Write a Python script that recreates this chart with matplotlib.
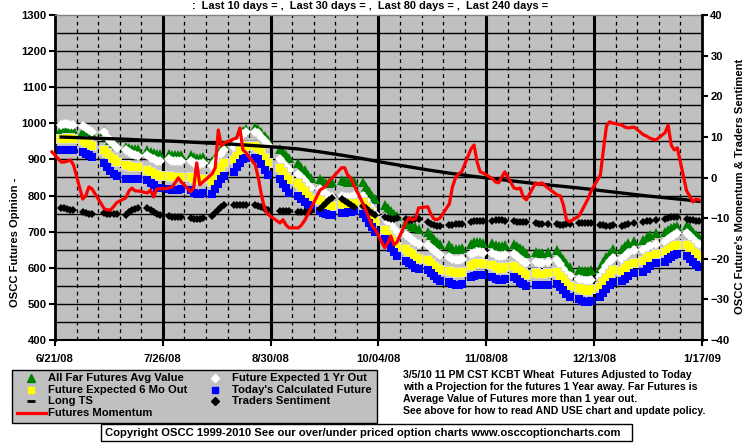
import matplotlib
matplotlib.use("Agg")
import matplotlib.pyplot as plt
from matplotlib.patches import Rectangle
import pandas as pd

plt.rcParams['font.family'] = ['Liberation Sans', 'DejaVu Sans']
plt.rcParams['font.weight'] = 'bold'

# ---- data -------------------------------------------------------------
holidays = ['2008-07-04', '2008-09-01', '2008-11-27', '2008-12-25', '2009-01-01']
days = pd.bdate_range('2008-06-23', '2009-01-16')
days = days[~days.isin(pd.to_datetime(holidays))]

far_avg = [
    985, 986, 987, 985, 983,
    980, 978, 974, 970,
    978, 966, 955, 946, 940,
    935, 932, 930, 929, 929,
    925, 920, 917, 915, 915,
    915, 913, 912, 912, 913,
    912, 908, 905, 905, 907,
    895, 905, 918, 930, 940,
    945, 958, 970, 980, 985,
    990, 985, 975, 965, 955,
    928, 920, 912, 905,
    890, 880, 870, 858, 848,
    845, 840, 835, 835, 838,
    842, 840, 838, 838, 840,
    838, 825, 812, 800, 790,
    775, 765, 757, 750, 743,
    728, 722, 716, 712, 708,
    700, 690, 680, 672, 665,
    662, 656, 652, 652, 655,
    665, 670, 672, 670, 668,
    668, 662, 660, 660, 664,
    665, 660, 655, 648, 642,
    645, 642, 642, 645,
    648, 636, 624, 612, 602,
    595, 592, 590, 590, 593,
    600, 615, 630, 642, 652,
    652, 660, 668, 675,
    678, 684, 690, 695,
    700, 705, 710, 713, 715,
    718, 710, 700, 692, 685]

one_yr = [
    995, 997, 998, 996, 994,
    993, 988, 982, 976,
    975, 962, 950, 940, 932,
    925, 920, 915, 912, 910,
    912, 905, 900, 897, 895,
    900, 897, 895, 895, 897,
    895, 890, 888, 888, 890,
    883, 893, 905, 915, 925,
    935, 948, 960, 970, 975,
    977, 972, 962, 950, 940,
    900, 890, 880, 870,
    860, 850, 840, 830, 822,
    818, 810, 803, 798, 796,
    798, 795, 795, 796, 798,
    800, 788, 775, 762, 750,
    740, 728, 718, 708, 698,
    690, 684, 677, 671, 666,
    662, 655, 648, 641, 636,
    630, 625, 622, 622, 624,
    638, 642, 645, 645, 642,
    640, 636, 632, 632, 636,
    638, 632, 625, 618, 612,
    615, 612, 612, 615,
    622, 610, 598, 586, 576,
    570, 566, 564, 564, 567,
    575, 590, 605, 618, 628,
    625, 633, 641, 648,
    650, 656, 661, 666,
    672, 679, 686, 692, 696,
    695, 688, 680, 672, 665]

six_mo = [
    957, 957, 958, 958, 957,
    950, 946, 942, 938,
    927, 918, 908, 900, 894,
    885, 882, 880, 880, 880,
    870, 865, 860, 856, 855,
    855, 852, 850, 850, 852,
    850, 845, 842, 842, 845,
    838, 850, 865, 878, 890,
    898, 910, 922, 932, 938,
    938, 932, 920, 905, 890,
    875, 865, 852, 842,
    835, 825, 812, 800, 790,
    788, 780, 775, 772, 772,
    776, 775, 776, 778, 780,
    782, 768, 755, 742, 730,
    705, 692, 680, 668, 658,
    652, 645, 638, 630, 625,
    622, 614, 606, 600, 595,
    592, 588, 585, 585, 587,
    606, 610, 612, 612, 610,
    608, 602, 598, 598, 602,
    605, 598, 592, 586, 580,
    585, 583, 583, 585,
    588, 578, 568, 558, 550,
    545, 540, 537, 537, 540,
    548, 560, 572, 584, 594,
    592, 600, 607, 614,
    618, 627, 633, 638,
    644, 650, 656, 660, 663,
    662, 655, 645, 637, 632]

today_calc = [
    926, 926, 925, 925, 926,
    921, 916, 911, 906,
    889, 878, 868, 860, 853,
    847, 846, 845, 845, 846,
    842, 835, 828, 822, 820,
    818, 816, 815, 815, 818,
    815, 808, 805, 805, 808,
    805, 818, 832, 845, 855,
    866, 878, 890, 900, 905,
    905, 900, 888, 872, 858,
    845, 833, 820, 808,
    798, 790, 782, 774, 766,
    758, 752, 748, 745, 745,
    752, 752, 754, 755, 756,
    750, 738, 725, 712, 700,
    680, 668, 655, 643, 632,
    620, 614, 607, 600, 596,
    594, 586, 578, 570, 563,
    562, 555, 551, 552, 555,
    575, 578, 580, 580, 580,
    575, 568, 565, 566, 570,
    574, 568, 562, 556, 550,
    553, 552, 552, 553,
    556, 547, 538, 528, 520,
    513, 508, 506, 506, 508,
    518, 530, 542, 552, 560,
    563, 570, 578, 585,
    589, 598, 605, 612,
    616, 624, 630, 635, 638,
    632, 624, 615, 607, 602]

traders = [
    -7.5, -7.6, -7.7, -7.9, -8.0,
    -8.6, -8.8, -9.0, -9.1,
    -8.8, -9.0, -9.1, -9.0, -8.9,
    -9.2, -8.6, -8.0, -7.7, -7.6,
    -7.6, -8.0, -8.5, -9.0, -9.3,
    -9.4, -9.6, -9.8, -9.8, -9.6,
    -10.0, -10.1, -10.2, -10.1, -10.0,
    -9.5, -8.8, -8.0, -7.3, -6.8,
    -6.8, -6.7, -6.7, -6.8, -6.8,
    -6.8, -7.0, -7.3, -7.7, -8.1,
    -8.3, -8.3, -8.3, -8.3,
    -8.5, -8.6, -8.6, -8.5, -8.2,
    -7.8, -7.0, -6.2, -5.5, -5.0,
    -5.2, -5.7, -6.3, -6.8, -7.2,
    -7.0, -7.6, -8.2, -8.8, -9.3,
    -9.8, -10.0, -10.2, -10.2, -10.0,
    -10.2, -10.4, -10.4, -10.3, -10.2,
    -11.0, -11.4, -11.8, -12.0, -12.0,
    -11.8, -11.6, -11.5, -11.5, -11.5,
    -11.0, -10.8, -10.6, -10.6, -10.8,
    -10.6, -10.4, -10.4, -10.5, -10.6,
    -10.8, -11.0, -11.0, -11.0, -10.9,
    -11.2, -11.4, -11.5, -11.5,
    -11.4, -11.6, -11.6, -11.5, -11.4,
    -11.2, -11.2, -11.1, -11.1, -11.2,
    -11.6, -11.8, -11.9, -11.9, -11.8,
    -12.0, -11.8, -11.5, -11.2,
    -11.0, -10.8, -10.6, -10.5,
    -10.3, -10.0, -9.8, -9.7, -9.7,
    -10.2, -10.4, -10.5, -10.6, -10.7]

# momentum starts one trading day earlier (Fri 6/20)
momentum_days = pd.DatetimeIndex([pd.Timestamp('2008-06-20')]).append(days)
momentum = [
    6.3,
    3.8, 3.8, 4.0, 4.3, 3.1,
    -5.3, -4.5, -2.3, -2.8,
    -7.7, -8.0, -8.0, -7.2, -6.2,
    -5.0, -3.3, -2.6, -3.3, -3.3,
    -3.8, -3.1, -4.8, -2.8, -2.8,
    -2.6, -2.3, -1.3, -0.1, -1.1,
    -3.5, -2.6, 3.6, -1.8, -1.1,
    0.9, 2.4, 11.7, 7.8, 8.5,
    9.5, 9.7, 12.2, 6.8, 6.1,
    3.1, -0.1, -4.3, -7.5, -9.0,
    -11.2, -10.4, -11.7, -12.4,
    -12.4, -11.7, -10.6, -9.2, -7.7,
    -3.1, -2.6, -2.1, -0.8, -0.1,
    2.4, 2.4, 0.6, -0.1, -1.8,
    -6.5, -8.2, -10.2, -12.0, -12.9,
    -17.3, -16.1, -14.4, -16.6, -15.9,
    -10.9, -9.9, -10.4, -10.2, -7.5,
    -7.2, -9.0, -10.2, -10.4, -9.9,
    -6.5, -2.3, -0.1, 0.9, 1.4,
    7.0, 8.0, 3.8, 1.4, 1.1,
    -0.3, -1.1, -1.3, 0.1, 1.4,
    -2.6, -2.8, -2.6, -4.8, -5.5,
    -1.3, -1.8, -1.3, -2.6,
    -4.3, -4.5, -6.7, -10.4, -10.9,
    -9.5, -8.2, -6.7, -5.3, -3.3,
    0.6, 6.8, 12.7, 13.7, 13.4,
    12.9, 12.4, 12.2, 12.4,
    10.5, 10.2, 9.7, 9.2,
    11.0, 12.9, 8.0, 6.8, 7.3,
    -3.3, -4.5, -6.0, -5.3, -5.5]

# long term trend, weekly
long_ts_days = pd.date_range('2008-06-23', periods=30, freq='7D').append(
    pd.DatetimeIndex([pd.Timestamp('2009-01-16')]))
long_ts = [962, 960, 958, 956, 953, 951, 948, 945, 942, 938,
           934, 929, 921, 912, 902, 891, 881, 871, 862, 854,
           847, 840, 833, 827, 821, 814, 807, 800, 794, 788, 784]

tick_dates = ['2008-06-21', '2008-07-26', '2008-08-30', '2008-10-04',
              '2008-11-08', '2008-12-13', '2009-01-17']
tick_labels = ['6/21/08', '7/26/08', '8/30/08', '10/04/08',
               '11/08/08', '12/13/08', '1/17/09']

FS = 8.1

# ---- figure -----------------------------------------------------------
W, H = 755, 446
fig = plt.figure(figsize=(W / 100, H / 100), dpi=100)
fig.patch.set_facecolor('white')

ax = fig.add_axes([55 / W, 1 - 340 / H, 647 / W, 325 / H])
ax.set_facecolor('#c0c0c0')
ax.set_ylim(400, 1300)
xmin, xmax = pd.Timestamp(tick_dates[0]), pd.Timestamp(tick_dates[-1])
ax.set_xlim(xmin, xmax)

# grid
for yv in range(450, 1300, 50):
    ax.axhline(yv, color='black', lw=1, zorder=1)
for d in pd.date_range(xmin, xmax, freq='7D')[1:-1]:
    if d.strftime('%Y-%m-%d') in tick_dates:
        ax.axvline(d, color='black', lw=2.2, zorder=1)
    else:
        ax.axvline(d, color='black', lw=0.9, ls=(0, (3, 3)), zorder=1)

ax.plot(days, far_avg, ls='none', marker='^', ms=6.5, mfc='#008000', mec='#008000', mew=0, zorder=3)
ax.plot(days, one_yr, ls='none', marker='D', ms=5, mfc='white', mec='white', mew=0, zorder=4)
# light grey rim around the 6 month band
ax.plot(days, six_mo, ls='none', marker='s', ms=7.5, mfc='#d6d6d6', mew=0, zorder=4.5)
ax.plot(days, six_mo, ls='none', marker='s', ms=5.5, mfc='#ffff00', mew=0, zorder=5)
ax.plot(days, today_calc, ls='none', marker='s', ms=5.5, mfc='#0000ff', mew=0, zorder=6)
ax.plot(long_ts_days, long_ts, color='black', lw=2.4, zorder=7)

ax.set_yticks(range(400, 1301, 100))
ax.set_xticks(pd.to_datetime(tick_dates))
ax.set_xticklabels(tick_labels)
ax.tick_params(axis='y', direction='out', length=4, width=1.5, labelsize=FS, pad=2)
ax.tick_params(axis='x', direction='out', length=4, width=1.5, labelsize=FS, pad=6)
for lab in ax.get_yticklabels() + ax.get_xticklabels():
    lab.set_fontweight('bold')
ax.spines['left'].set_linewidth(2)
ax.spines['bottom'].set_linewidth(1.5)
ax.spines['top'].set_color('#808080')
ax.spines['top'].set_linewidth(1)
ax.spines['right'].set_visible(False)

ax2 = ax.twinx()
ax2.set_ylim(-40, 40)
ax2.set_yticks(range(-40, 41, 10))
ax2.tick_params(axis='y', direction='out', length=4, width=1.5, labelsize=FS, pad=2)
for lab in ax2.get_yticklabels():
    lab.set_fontweight('bold')
ax2.spines['right'].set_linewidth(2)
for s in ('left', 'top', 'bottom'):
    ax2.spines[s].set_visible(False)

ax2.plot(days, traders, ls='none', marker='D', ms=4.5, mfc='black', mec='black', mew=0, zorder=3)
ax2.plot(momentum_days, momentum, color='#ff0000', lw=2.3, zorder=4, clip_on=False,
         solid_joinstyle='round')

# axis titles
fig.text(15 / W, 1 - 242 / H, 'OSCC Futures Opinion -', rotation=90, ha='center', va='center',
         fontsize=FS, fontweight='bold')
fig.text(740 / W, 1 - 186 / H, "OSCC Future's Momentum & Traders Sentiment", rotation=90,
         ha='center', va='center', fontsize=FS, fontweight='bold')
fig.text(192 / W, 1 - 6 / H, ':  Last 10 days = ,  Last 30 days = ,  Last 80 days = ,  Last 240 days =',
         ha='left', va='center', fontsize=7.9, fontweight='bold')

# ---- legend, notes, copyright (pixel coords overlay) -----------------
lay = fig.add_axes([0, 0, 1, 1], zorder=10)
lay.set_xlim(0, W)
lay.set_ylim(H, 0)
lay.axis('off')
lay.patch.set_alpha(0)

lay.add_patch(Rectangle((12, 370), 365, 53, fc='#c0c0c0', ec='black', lw=1))
rows = [378, 390, 401, 413]
legend_items = [
    (31, rows[0], 'All Far Futures Avg Value', dict(marker='^', ms=5.5, color='#008000')),
    (31, rows[1], 'Future Expected 6 Mo Out', dict(marker='s', ms=5, color='#ffff00')),
    (31, rows[2], 'Long TS', dict(marker='_', ms=6, mew=2, color='black')),
    (215, rows[0], 'Future Expected 1 Yr Out', dict(marker='D', ms=4.2, color='white')),
    (215, rows[1], "Today's Calculated Future", dict(marker='s', ms=5, color='#0000ff')),
    (215, rows[2], 'Traders Sentiment', dict(marker='D', ms=4.2, color='black')),
]
for mx, my, txt, st in legend_items:
    lay.plot([mx], [my], ls='none', **st)
    lay.text(mx + 17, my, txt, ha='left', va='center', fontsize=FS, fontweight='bold')
lay.plot([17, 46], [rows[3], rows[3]], color='#ff0000', lw=2.3)
lay.text(48, rows[3], 'Futures Momentum', ha='left', va='center', fontsize=FS, fontweight='bold')

notes = ['3/5/10 11 PM CST KCBT Wheat  Futures Adjusted to Today',
         'with a Projection for the futures 1 Year away. Far Futures is',
         'Average Value of Futures more than 1 year out.',
         'See above for how to read AND USE chart and update policy.']
for i, line in enumerate(notes):
    lay.text(403, 375 + i * 12, line, ha='left', va='center', fontsize=7.6, fontweight='bold')

lay.add_patch(Rectangle((101, 424), 531, 17, fc='white', ec='black', lw=1))
lay.text(105, 432.5, 'Copyright OSCC 1999-2010 See our over/under priced option charts www.osccoptioncharts.com',
         ha='left', va='center', fontsize=8.15, fontweight='bold')

fig.savefig('out.png', dpi=100)
